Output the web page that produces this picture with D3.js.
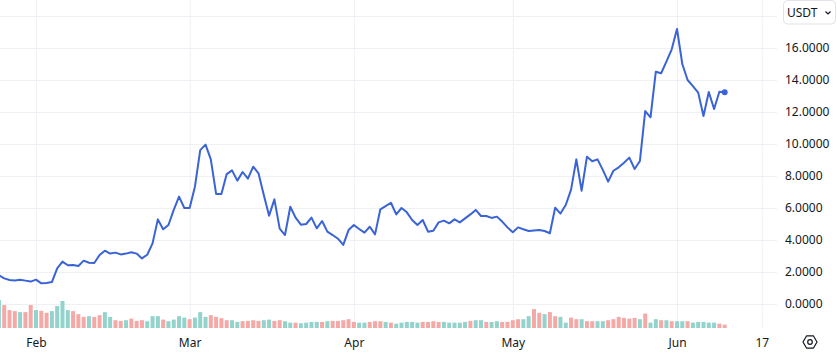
<!DOCTYPE html>
<html>
<head>
<meta charset="utf-8">
<script src="https://cdn.jsdelivr.net/npm/d3@7"></script>
<style>
    html, body { margin: 0; padding: 0; background: #fff; }
    #chart { width: 837px; height: 352px; }
    text { font-family: "Noto Sans", Roboto, sans-serif; }
</style>
</head>
<body>
<div id="chart"></div>
<script>
// daily closes, starting 2024-01-25
const startDate = '2024-01-25';
const prices = [
    1.80, 1.60, 1.50, 1.47, 1.52, 1.46, 1.40, 1.52,
    1.29, 1.31, 1.37, 2.23, 2.65, 2.42, 2.44, 2.38, 2.71, 2.58,
    2.56, 3.06, 3.33, 3.15, 3.21, 3.10, 3.15, 3.23, 3.15, 2.85,
    3.08, 3.79, 5.29, 4.67, 4.94, 5.88, 6.71, 6.00, 6.00, 7.33,
    9.62, 9.96, 9.04, 6.88, 6.88, 8.12, 8.35, 7.71, 8.25, 7.83,
    8.58, 8.17, 6.81, 5.52, 6.54, 4.71, 4.31, 6.08, 5.40, 4.96,
    5.00, 5.40, 4.73, 5.19, 4.52, 4.31, 4.08, 3.69, 4.62, 4.94,
    4.69, 4.46, 4.83, 4.35, 5.92, 6.12, 6.33, 5.60, 6.00, 5.73,
    5.25, 4.94, 5.25, 4.52, 4.58, 5.10, 5.21, 5.04, 5.29, 5.10,
    5.35, 5.60, 5.88, 5.50, 5.50, 5.38, 5.46, 5.15, 4.79, 4.48,
    4.79, 4.67, 4.56, 4.60, 4.62, 4.56, 4.42, 6.02, 5.65, 6.19,
    7.15, 9.04, 7.08, 9.21, 8.92, 9.04, 8.38, 7.65, 8.33, 8.54,
    8.83, 9.15, 8.44, 8.94, 12.06, 11.67, 14.52, 14.42, 15.15, 15.92,
    17.19, 15.00, 14.00, 13.62, 13.21, 11.75, 13.25, 12.19, 13.27, 13.23
];
const volumes = [
    277, 227, 177, 167, 157, 157, 227, 177, 170, 150, 167, 217, 267, 177, 167, 137, 110,
    117, 110, 127, 157, 110, 77, 70, 77, 93, 70, 77, 67, 117, 117, 83, 67, 83, 117, 103, 87,
    103, 157, 110, 127, 110, 97, 77, 77, 60, 67, 70, 77, 70, 77, 83, 70, 77,
    67, 53, 53, 47, 53, 60, 60, 60, 67, 70, 70, 77, 87, 60, 53, 53, 60, 67, 67, 60,
    53, 43, 53, 60, 60, 53, 60, 60, 67, 60, 60, 53, 53, 53, 60, 70, 77, 77, 60, 60,
    67, 60, 60, 77, 87, 87, 117, 187, 150, 137, 157, 117,
    110, 53, 103, 87, 87, 67, 67, 67, 67, 77, 87, 110, 100, 93, 100, 87, 143, 53, 87, 77,
    77, 67, 67, 67, 67, 53, 60, 60, 53, 53, 43, 33
];
// u = up (teal), d = down (red)
const volumeDir = (
    'uddduddudduuuudddudduudduddduuuduuuuduuudddduudddduudduu' +
    'duuuududdddduuddduduuuuudddduuuuuduuduudddduuddudduuddud' +
    'duudddddduduududuuduuuuuddduuuuuuu'
).split('');

const priceTicks = [0, 2, 4, 6, 8, 10, 12, 14, 16];
const gridValues = [0, 2, 4, 6, 8, 10, 12, 14, 16, 18];
const timeTicks = ['2024-02-01', '2024-03-01', '2024-04-01', '2024-05-01', '2024-06-01', '2024-06-17'];
const timeLabels = ['Feb', 'Mar', 'Apr', 'May', 'Jun', '17'];
const currency = 'USDT';

const width = 837;
const height = 352;
const plotRight = 777;
const timeAxisY = 328;
const lineColor = '#3a64d6';
const gridColor = '#eef0f4';
const textColor = '#131722';

const parseDate = d3.utcParse('%Y-%m-%d');
const start = parseDate(startDate);
const data = prices.map((p, i) => ({
    date: d3.utcDay.offset(start, i),
    price: p,
    volume: volumes[i],
    up: volumeDir[i] === 'u'
}));

const x = d3.scaleUtc()
    .domain([parseDate('2024-02-01'), parseDate('2024-06-01')])
    .range([36, 677]);

const y = d3.scaleLinear()
    .domain([0, 16])
    .range([304, 48]);

const yVol = d3.scaleLinear()
    .domain([0, d3.max(volumes)])
    .range([timeAxisY, timeAxisY - 28]);

const svg = d3.select('#chart')
    .append('svg')
    .attr('width', width)
    .attr('height', height);

svg.append('rect')
    .attr('width', width)
    .attr('height', height)
    .attr('fill', '#fff');

// grid
svg.append('g')
    .attr('class', 'grid')
    .call(d3.axisLeft(y)
        .tickValues(gridValues)
        .tickSize(-plotRight)
        .tickFormat(''))
    .call(g => g.select('.domain').remove())
    .selectAll('line')
    .attr('stroke', gridColor);

svg.append('g')
    .attr('class', 'grid')
    .attr('transform', `translate(0,${timeAxisY})`)
    .call(d3.axisBottom(x)
        .tickValues(timeTicks.map(parseDate))
        .tickSize(-timeAxisY)
        .tickFormat(''))
    .call(g => g.select('.domain').remove())
    .selectAll('line')
    .attr('stroke', gridColor);

// volume
const barW = 4;
svg.append('g')
    .selectAll('rect')
    .data(data)
    .enter()
    .append('rect')
    .attr('x', d => x(d.date) - barW / 2)
    .attr('y', d => yVol(d.volume))
    .attr('width', barW)
    .attr('height', d => timeAxisY - yVol(d.volume))
    .attr('fill', d => d.up ? '#92d3cc' : '#f4a9a7');

// price line
const line = d3.line()
    .x(d => x(d.date))
    .y(d => y(d.price));

svg.append('path')
    .datum(data)
    .attr('fill', 'none')
    .attr('stroke', lineColor)
    .attr('stroke-width', 2)
    .attr('stroke-linejoin', 'round')
    .attr('d', line);

const last = data[data.length - 1];
svg.append('circle')
    .attr('cx', x(last.date))
    .attr('cy', y(last.price))
    .attr('r', 3)
    .attr('fill', lineColor);

// price axis
svg.append('g')
    .attr('transform', `translate(${plotRight},0)`)
    .call(d3.axisRight(y)
        .tickValues(priceTicks)
        .tickSize(0)
        .tickPadding(8)
        .tickFormat(d3.format('.4f')))
    .call(g => g.select('.domain').remove())
    .selectAll('text')
    .attr('fill', textColor)
    .style('font-size', '12px');

// time axis
const timeFmt = {};
timeTicks.forEach((t, i) => { timeFmt[+parseDate(t)] = timeLabels[i]; });
svg.append('g')
    .attr('transform', `translate(0,${timeAxisY})`)
    .call(d3.axisBottom(x)
        .tickValues(timeTicks.map(parseDate))
        .tickSize(0)
        .tickPadding(10)
        .tickFormat(d => timeFmt[+d]))
    .call(g => g.select('.domain').remove())
    .selectAll('text')
    .attr('fill', textColor)
    .style('font-size', '12px');

// currency box
const cur = svg.append('g');
cur.append('rect')
    .attr('x', 783.5)
    .attr('y', 0.5)
    .attr('width', 52)
    .attr('height', 23.5)
    .attr('rx', 4)
    .attr('fill', '#fff')
    .attr('stroke', '#e0e3eb');
cur.append('text')
    .attr('x', 787)
    .attr('y', 13)
    .attr('dy', '0.35em')
    .attr('fill', textColor)
    .style('font-size', '12px')
    .text(currency);
cur.append('path')
    .attr('d', 'M825.5,11.5 L828,14 L830.5,11.5')
    .attr('fill', 'none')
    .attr('stroke', textColor)
    .attr('stroke-width', 1.2);

// settings icon
const hex = d3.range(6).map(i => {
    const a = Math.PI / 3 * i;
    return [810 + 7 * Math.cos(a), 342 + 7 * Math.sin(a)];
});
svg.append('path')
    .attr('d', 'M' + hex.join('L') + 'Z')
    .attr('fill', 'none')
    .attr('stroke', textColor)
    .attr('stroke-width', 1.2)
    .attr('stroke-linejoin', 'round');
svg.append('circle')
    .attr('cx', 810)
    .attr('cy', 342)
    .attr('r', 2.3)
    .attr('fill', 'none')
    .attr('stroke', textColor)
    .attr('stroke-width', 1.2);
</script>
</body>
</html>
